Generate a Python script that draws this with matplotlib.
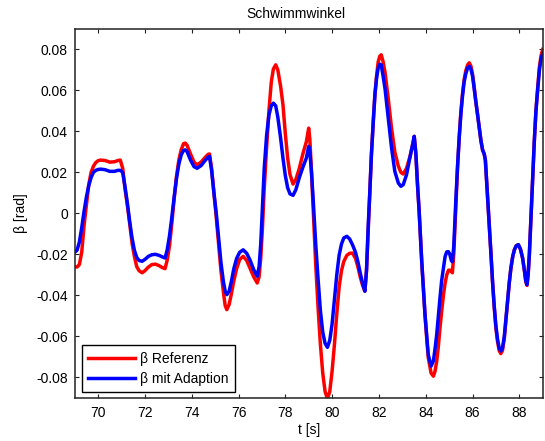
import matplotlib
matplotlib.use("Agg")
import matplotlib.pyplot as plt
from matplotlib.ticker import FuncFormatter

plt.rcParams["font.family"] = ["Liberation Sans", "DejaVu Sans"]
plt.rcParams["axes.unicode_minus"] = False

# Zeit [s]
t = [69.0, 69.1, 69.2, 69.3, 69.4, 69.5, 69.6, 69.7, 69.8, 69.9,
     70.0, 70.1, 70.3, 70.5, 70.7, 70.85, 70.95, 71.05, 71.15, 71.25,
     71.35, 71.45, 71.55, 71.65, 71.75, 71.88, 72.0, 72.15, 72.3, 72.45,
     72.6, 72.75, 72.86, 72.95, 73.05, 73.15, 73.25, 73.35, 73.45, 73.55,
     73.65, 73.72, 73.8, 73.95, 74.1, 74.23, 74.4, 74.55, 74.7, 74.76,
     74.85, 74.95, 75.05, 75.15, 75.25, 75.35, 75.43, 75.5, 75.6, 75.7,
     75.8, 75.92, 76.05, 76.2, 76.35, 76.5, 76.65, 76.8, 76.88, 76.95,
     77.02, 77.1, 77.2, 77.3, 77.4, 77.49, 77.59, 77.68, 77.8, 77.9,
     78.0, 78.1, 78.2, 78.33, 78.45, 78.6, 78.75, 78.9, 79.0, 79.05,
     79.12, 79.2, 79.3, 79.4, 79.5, 79.6, 79.7, 79.8, 79.9, 80.0,
     80.1, 80.2, 80.3, 80.4, 80.5, 80.63, 80.75, 80.87, 81.0, 81.1,
     81.2, 81.3, 81.4, 81.47, 81.54, 81.61, 81.68, 81.76, 81.83, 81.9,
     81.97, 82.04, 82.1, 82.18, 82.26, 82.4, 82.54, 82.68, 82.83, 82.94,
     83.04, 83.18, 83.33, 83.45, 83.51, 83.58, 83.65, 83.72, 83.83, 83.97,
     84.05, 84.11, 84.23, 84.33, 84.4, 84.47, 84.54, 84.61, 84.68, 84.76,
     84.83, 84.9, 84.97, 85.03, 85.1, 85.14, 85.2, 85.29, 85.36, 85.43,
     85.5, 85.57, 85.64, 85.71, 85.79, 85.86, 85.93, 86.0, 86.07, 86.14,
     86.22, 86.29, 86.36, 86.43, 86.5, 86.55, 86.64, 86.72, 86.79, 86.86,
     86.93, 87.0, 87.07, 87.14, 87.21, 87.28, 87.36, 87.43, 87.5, 87.57,
     87.64, 87.72, 87.79, 87.87, 87.96, 88.05, 88.14, 88.22, 88.28, 88.33,
     88.38, 88.43, 88.5, 88.57, 88.64, 88.71, 88.79, 88.86, 88.93, 89.0]

# Schwimmwinkel Referenz [rad]
beta_ref = [-0.026, -0.0262, -0.025, -0.019, -0.006, 0.004, 0.014, 0.020, 0.023, 0.0248,
            0.0257, 0.026, 0.0258, 0.025, 0.0252, 0.0258, 0.026, 0.022, 0.012, 0.004,
            -0.005, -0.0145, -0.021, -0.026, -0.028, -0.029, -0.028, -0.0262, -0.025, -0.0248,
            -0.0255, -0.0265, -0.027, -0.023, -0.016, -0.005, 0.007, 0.018, 0.026, 0.031,
            0.034, 0.0343, 0.0333, 0.029, 0.025, 0.0237, 0.025, 0.027, 0.0288, 0.029,
            0.022, 0.010, -0.002, -0.015, -0.028, -0.038, -0.045, -0.047, -0.0445, -0.039,
            -0.033, -0.027, -0.0225, -0.021, -0.023, -0.027, -0.031, -0.034, -0.031, -0.022,
            -0.008, 0.012, 0.032, 0.050, 0.064, 0.0705, 0.0725, 0.070, 0.062, 0.053,
            0.039, 0.027, 0.019, 0.0143, 0.0165, 0.022, 0.029, 0.035, 0.0416, 0.036,
            0.020, 0.0, -0.025, -0.046, -0.064, -0.078, -0.087, -0.0905, -0.087, -0.077,
            -0.064, -0.049, -0.036, -0.028, -0.0235, -0.0205, -0.0195, -0.0194, -0.022, -0.026,
            -0.031, -0.035, -0.038, -0.028, -0.009, 0.010, 0.0286, 0.045, 0.058, 0.067,
            0.074, 0.0768, 0.0774, 0.074, 0.069, 0.056, 0.0416, 0.030, 0.023, 0.020,
            0.0192, 0.022, 0.0278, 0.034, 0.0376, 0.029, 0.014, 0.001, -0.0234, -0.0495,
            -0.062, -0.0705, -0.078, -0.0795, -0.077, -0.0722, -0.065, -0.056, -0.048, -0.0397,
            -0.034, -0.030, -0.0278, -0.0277, -0.0285, -0.029, -0.020, 0.004, 0.022, 0.0367,
            0.049, 0.058, 0.065, 0.0695, 0.0725, 0.0735, 0.072, 0.068, 0.062, 0.0546,
            0.048, 0.0416, 0.0355, 0.031, 0.029, 0.026, 0.009, -0.006, -0.020, -0.034,
            -0.046, -0.056, -0.0625, -0.067, -0.0685, -0.067, -0.061, -0.052, -0.043, -0.034,
            -0.027, -0.021, -0.0178, -0.0158, -0.0153, -0.0175, -0.0218, -0.028, -0.0335, -0.0352,
            -0.030, -0.020, -0.002, 0.0172, 0.035, 0.0498, 0.062, 0.0715, 0.077, 0.080]

# Schwimmwinkel mit Adaption [rad]
beta_adapt = [-0.019, -0.018, -0.014, -0.007, 0.001, 0.008, 0.0135, 0.0175, 0.020, 0.021,
              0.0214, 0.0216, 0.0213, 0.0205, 0.0205, 0.021, 0.021, 0.020, 0.013, 0.005,
              -0.004, -0.012, -0.018, -0.0215, -0.023, -0.0234, -0.0225, -0.021, -0.0202, -0.020,
              -0.0205, -0.0213, -0.0218, -0.018, -0.011, -0.002, 0.008, 0.017, 0.024, 0.0285,
              0.0307, 0.031, 0.0302, 0.026, 0.0228, 0.022, 0.0233, 0.0255, 0.0275, 0.0278,
              0.021, 0.010, 0.0, -0.012, -0.024, -0.033, -0.038, -0.0397, -0.038, -0.033,
              -0.027, -0.022, -0.019, -0.0178, -0.0195, -0.023, -0.0275, -0.0307, -0.026, -0.015,
              0.002, 0.022, 0.038, 0.048, 0.0525, 0.0538, 0.0525, 0.047, 0.0367, 0.027,
              0.0185, 0.0125, 0.0095, 0.0088, 0.0115, 0.0175, 0.0225, 0.027, 0.0327, 0.030,
              0.020, 0.005, -0.015, -0.032, -0.0475, -0.058, -0.0635, -0.0654, -0.062, -0.054,
              -0.042, -0.030, -0.0205, -0.015, -0.012, -0.0112, -0.0125, -0.0153, -0.019, -0.0235,
              -0.029, -0.034, -0.038, -0.028, -0.007, 0.010, 0.0286, 0.045, 0.058, 0.066,
              0.071, 0.0728, 0.0725, 0.067, 0.061, 0.0465, 0.032, 0.0205, 0.0148, 0.0132,
              0.014, 0.0188, 0.0275, 0.034, 0.0376, 0.029, 0.014, 0.001, -0.0234, -0.0495,
              -0.061, -0.069, -0.0746, -0.072, -0.066, -0.0592, -0.050, -0.0413, -0.033, -0.0267,
              -0.021, -0.0188, -0.0187, -0.020, -0.0232, -0.0236, -0.016, 0.007, 0.023, 0.0367,
              0.048, 0.057, 0.064, 0.068, 0.071, 0.0718, 0.0705, 0.0672, 0.061, 0.0546,
              0.048, 0.0416, 0.0355, 0.031, 0.029, 0.026, 0.009, -0.006, -0.020, -0.034,
              -0.0455, -0.055, -0.0615, -0.0658, -0.0672, -0.0658, -0.060, -0.0515, -0.0425, -0.034,
              -0.0267, -0.021, -0.0178, -0.0158, -0.0153, -0.0175, -0.0218, -0.028, -0.0332, -0.0348,
              -0.029, -0.020, -0.002, 0.0172, 0.035, 0.0498, 0.061, 0.070, 0.0755, 0.078]

x_ticks = [70, 72, 74, 76, 78, 80, 82, 84, 86, 88]
y_ticks = [-0.08, -0.06, -0.04, -0.02, 0, 0.02, 0.04, 0.06, 0.08]

fig = plt.figure(figsize=(5.45, 4.41), dpi=100)
ax = fig.add_axes([74.7 / 545, 1 - 397.7 / 441, (542.7 - 74.7) / 545, (397.7 - 29) / 441])

ax.plot(t, beta_ref, color=(1, 0, 0), lw=2.5, label="β Referenz")
ax.plot(t, beta_adapt, color=(0, 0, 1), lw=2.5, label="β mit Adaption")

ax.set_xlim(69, 89)
ax.set_ylim(-0.09, 0.09)
ax.set_xticks(x_ticks)
ax.set_yticks(y_ticks)
ax.yaxis.set_major_formatter(FuncFormatter(lambda v, p: "0" if abs(v) < 1e-9 else f"{v:.2f}"))
ax.tick_params(direction="in", length=3, width=0.8, labelsize=10,
               top=True, right=True, color="#222222")
ax.tick_params(axis="x", pad=6)
ax.tick_params(axis="y", pad=5)
for sp in ax.spines.values():
    sp.set_linewidth(1.1)
    sp.set_color("#222222")

ax.set_xlabel("t [s]", fontsize=10, labelpad=2)
ax.set_ylabel("β [rad]", fontsize=10, labelpad=6)
fig.text(296 / 545, 1 - 14 / 441, "Schwimmwinkel", ha="center", va="center", fontsize=10)

leg = ax.legend(loc="lower left", bbox_to_anchor=(0.015, 0.015), borderaxespad=0,
                fontsize=10, frameon=True, fancybox=False, shadow=False,
                handlelength=3.4, handletextpad=0.35, labelspacing=0.45,
                borderpad=0.45, framealpha=1)
leg.get_frame().set_edgecolor("black")
leg.get_frame().set_linewidth(1.0)

fig.savefig("out.png", dpi=100)
